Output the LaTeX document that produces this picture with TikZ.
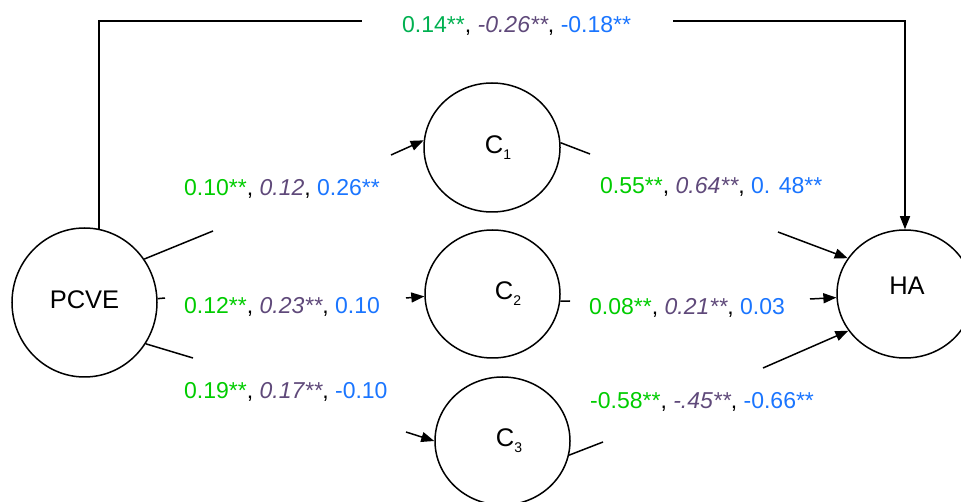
\documentclass[tikz,border=0pt]{standalone}
\usepackage{fontspec}
\setmainfont{Liberation Sans}
\usetikzlibrary{shapes.geometric,arrows.meta}
\definecolor{gA}{HTML}{00B050}
\definecolor{gB}{HTML}{00CC00}
\definecolor{pu}{HTML}{5F497A}
\definecolor{bl}{HTML}{1A75FF}
\newcommand{\gr}[1]{\textcolor{gB}{#1}}
\newcommand{\pp}[1]{\textcolor{pu}{\itshape #1}}
\newcommand{\bb}[1]{\textcolor{bl}{#1}}
\newcommand{\subs}[1]{{\fontsize{14}{14}\selectfont\raisebox{-6pt}{#1}}}
\tikzset{
  var/.style={draw, ellipse, line width=1.5pt, inner sep=0pt, font=\fontsize{25.5}{25.5}\selectfont},
  coef/.style={anchor=base west, inner sep=0pt, font=\fontsize{23}{23}\selectfont},
  conn/.style={line width=1.5pt},
  arr/.style={line width=1.5pt, -{Triangle[length=13pt,width=10pt]}}
}
\begin{document}
\begin{tikzpicture}[x=1pt,y=-1pt]
\useasboundingbox (0,0) rectangle (961,502);
% variables
\node[var, minimum width=145pt, minimum height=149pt] (pcve) at (84.5,302.5) {\raisebox{6pt}{PCVE}};
\node[var, minimum width=136pt, minimum height=129pt] (c1) at (492,147.5) {\raisebox{-3pt}{\hspace{12pt}C\subs{1}}};
\node[var, minimum width=135pt, minimum height=128pt] (c2) at (492.5,294) {\raisebox{-2pt}{\hspace{31pt}C\subs{2}}};
\node[var, minimum width=135pt, minimum height=128pt] (c3) at (502.5,441) {\raisebox{-3pt}{\hspace{13pt}C\subs{3}}};
\node[var, minimum width=136pt, minimum height=128pt] (ha) at (905,294) {\raisebox{16pt}{\hspace{4pt}HA}};
% gap coordinates
\coordinate (t1) at (362,21);
\coordinate (t2) at (673,21);
\coordinate (a1) at (213,231);
\coordinate (b1) at (391,155);
\coordinate (a2) at (165,298);
\coordinate (b2) at (406,298);
\coordinate (a3) at (193,358);
\coordinate (b3) at (406,432);
\coordinate (d1) at (590,154);
\coordinate (e1) at (778,232);
\coordinate (d2) at (570,301);
\coordinate (e2) at (810,299);
\coordinate (d3) at (603,442);
\coordinate (e3) at (763,368);
% connectors
\draw[conn] (pcve.79) |- (t1);
\draw[arr] (t2) -| (ha.north);
\draw[conn] (pcve.36) -- (a1);
\draw[arr] (b1) -- (c1.174);
\draw[conn] (pcve.3) -- (a2);
\draw[arr] (b2) -- (c2.182);
\draw[conn] (pcve.-34) -- (a3);
\draw[arr] (b3) -- (c3.180);
\draw[conn] (c1.4) -- (d1);
\draw[arr] (e1) -- (ha.148);
\draw[conn] (c2.-6) -- (d2);
\draw[arr] (e2) -- (ha.183);
\draw[conn] (c3.-12) -- (d3);
\draw[arr] (e3) -- (ha.213);
% coefficients
\node[coef] (lt) at (402,33) {\textcolor{gA}{0.14**}, \pp{-0.26**}, \bb{-0.18**}};
\node[coef] (l1) at (184,196) {\gr{0.10**}, \pp{0.12}, \bb{0.26**}};
\node[coef] (r1) at (600,194) {\gr{0.55**}, \pp{0.64**}, \bb{0. 48**}};
\node[coef] (l2) at (184,314) {\gr{0.12**}, \pp{0.23**}, \bb{0.10}};
\node[coef] (r2) at (589,315) {\gr{0.08**}, \pp{0.21**}, \bb{0.03}};
\node[coef] (l3) at (184,399) {\gr{0.19**}, \pp{0.17**}, \bb{-0.10}};
\node[coef] (r3) at (590,408) {\gr{-0.58**}, \pp{-.45**}, \bb{-0.66**}};
\end{tikzpicture}
\end{document}
